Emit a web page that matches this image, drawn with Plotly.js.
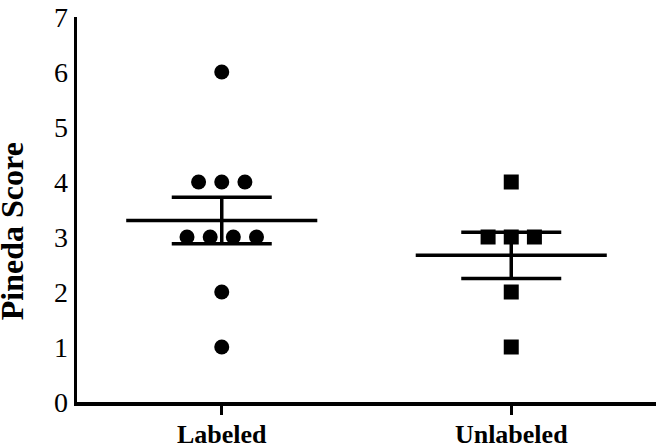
<!DOCTYPE html>
<html>
<head>
<meta charset="utf-8">
<script src="https://cdn.plot.ly/plotly-3.0.1.min.js"></script>
<style>html,body{margin:0;padding:0;background:#fff;}#chart{width:656px;height:444px;}</style>
</head>
<body>
<div id="chart"></div>
<script>
const categories = ["Labeled", "Unlabeled"];
const labeledScores = [6, 4, 4, 4, 3, 3, 3, 3, 2, 1];
const labeledJitter = [0, -0.08, 0, 0.08, -0.12, -0.04, 0.04, 0.12, 0, 0];
const unlabeledScores = [4, 3, 3, 3, 2, 1];
const unlabeledJitter = [0, -0.08, 0, 0.08, 0, 0];
const yTicks = [0, 1, 2, 3, 4, 5, 6, 7];
const yTitle = "Pineda Score";

function mean(a){ return a.reduce((s,v)=>s+v,0)/a.length; }
function sem(a){ const m=mean(a); const v=a.reduce((s,x)=>s+(x-m)*(x-m),0)/(a.length-1); return Math.sqrt(v/a.length); }

const groups = [
  {scores: labeledScores, jitter: labeledJitter, symbol: "circle"},
  {scores: unlabeledScores, jitter: unlabeledJitter, symbol: "square"}
];

const traces = [];
groups.forEach((g, i) => {
  const m = mean(g.scores), s = sem(g.scores);
  traces.push({
    type: "scatter", mode: "markers",
    x: g.jitter.map(j => i + j), y: g.scores,
    marker: {symbol: g.symbol, size: 15, color: "black"},
    showlegend: false, hoverinfo: "skip"
  });
  traces.push({
    type: "scatter", mode: "lines",
    x: [i - 0.33, i + 0.33], y: [m, m],
    line: {color: "black", width: 3.5},
    showlegend: false, hoverinfo: "skip"
  });
  traces.push({
    type: "scatter", mode: "markers",
    x: [i], y: [m],
    marker: {size: 1, color: "rgba(0,0,0,0)"},
    error_y: {type: "data", array: [s], visible: true, width: 50, thickness: 3.5, color: "black"},
    showlegend: false, hoverinfo: "skip"
  });
});

const layout = {
  width: 656, height: 444,
  margin: {l: 77, r: 0, t: 17, b: 42},
  paper_bgcolor: "white", plot_bgcolor: "white",
  showlegend: false,
  xaxis: {
    range: [-0.5, 1.5],
    tickvals: [0, 1], ticktext: categories,
    showgrid: false, zeroline: false,
    showline: true, linecolor: "black", linewidth: 3.5,
    ticks: "outside", ticklen: 9, tickwidth: 3, tickcolor: "black",
    ticklabelstandoff: -3,
    tickfont: {family: "Liberation Serif", size: 26, color: "black", weight: "bold"}
  },
  yaxis: {
    range: [0, 7],
    tickvals: yTicks,
    showgrid: false, zeroline: false,
    showline: true, linecolor: "black", linewidth: 3.5,
    ticks: "",
    tickfont: {family: "Liberation Serif", size: 28, color: "black"}
  },
  annotations: [{
    text: yTitle, textangle: -90,
    xref: "paper", yref: "paper", x: -0.112, y: 0.444,
    xanchor: "center", yanchor: "middle", showarrow: false,
    font: {family: "Liberation Serif", size: 32, color: "black", weight: "bold"}
  }]
};

Plotly.newPlot("chart", traces, layout, {staticPlot: true, displayModeBar: false});
</script>
</body>
</html>
